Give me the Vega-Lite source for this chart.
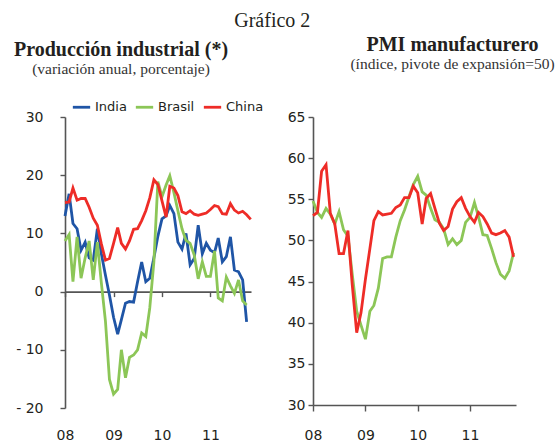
{
  "$schema": "https://vega.github.io/schema/vega-lite/v6.json",
  "padding": {"left": 13, "top": 10, "right": 0, "bottom": 0},
  "title": {"text": "Gráfico 2", "fontWeight": "normal", "fontSize": 20, "anchor": "middle", "offset": 4, "dx": -12},
  "spacing": 30,
  "config": {
    "view": {"stroke": null},
    "font": "DejaVu Sans",
    "axis": {"labelFont": "DejaVu Sans", "labelFontSize": 14, "labelColor": "#231f20", "domainColor": "#555555", "domainWidth": 1.6, "tickColor": "#555555", "tickWidth": 1.4, "grid": false},
    "legend": {"labelFont": "DejaVu Sans", "labelFontSize": 13, "labelColor": "#231f20", "symbolType": "stroke", "symbolStrokeWidth": 4, "symbolSize": 300, "labelOffset": 3, "columnPadding": 3, "padding": 0},
    "title": {"font": "Liberation Serif", "fontSize": 20, "fontWeight": "bold", "color": "#231f20", "subtitleFont": "Liberation Serif", "subtitleFontSize": 15.5, "subtitleColor": "#333333", "subtitlePadding": 2.5},
    "line": {"strokeWidth": 2.8}
  },
  "hconcat": [
    {
      "width": 186,
      "height": 291,
      "title": {"text": "Producción industrial (*)", "subtitle": "(variación anual, porcentaje)", "frame": "group", "anchor": "middle", "dx": -37, "offset": 32.5},
      "data": {
        "format": {"parse": {"m": "date:'%Y-%m'"}},
        "values": [
          {"m": "2008-01", "s": "India", "v": 13.0}, {"m": "2008-02", "s": "India", "v": 16.8}, {"m": "2008-03", "s": "India", "v": 11.7}, {"m": "2008-04", "s": "India", "v": 10.8}, {"m": "2008-05", "s": "India", "v": 7.1}, {"m": "2008-06", "s": "India", "v": 8.5}, {"m": "2008-07", "s": "India", "v": 5.8}, {"m": "2008-08", "s": "India", "v": 5.4}, {"m": "2008-09", "s": "India", "v": 10.8}, {"m": "2008-10", "s": "India", "v": 6.5}, {"m": "2008-11", "s": "India", "v": 2.8}, {"m": "2008-12", "s": "India", "v": -0.6},
          {"m": "2009-01", "s": "India", "v": -4.4}, {"m": "2009-02", "s": "India", "v": -7.3}, {"m": "2009-03", "s": "India", "v": -4.8}, {"m": "2009-04", "s": "India", "v": -2.0}, {"m": "2009-05", "s": "India", "v": -1.7}, {"m": "2009-06", "s": "India", "v": -1.8}, {"m": "2009-07", "s": "India", "v": 1.7}, {"m": "2009-08", "s": "India", "v": 5.1}, {"m": "2009-09", "s": "India", "v": 1.7}, {"m": "2009-10", "s": "India", "v": 2.3}, {"m": "2009-11", "s": "India", "v": 5.8}, {"m": "2009-12", "s": "India", "v": 9.5},
          {"m": "2010-01", "s": "India", "v": 12.5}, {"m": "2010-02", "s": "India", "v": 13.0}, {"m": "2010-03", "s": "India", "v": 14.8}, {"m": "2010-04", "s": "India", "v": 13.4}, {"m": "2010-05", "s": "India", "v": 8.5}, {"m": "2010-06", "s": "India", "v": 7.3}, {"m": "2010-07", "s": "India", "v": 10.0}, {"m": "2010-08", "s": "India", "v": 4.6}, {"m": "2010-09", "s": "India", "v": 5.7}, {"m": "2010-10", "s": "India", "v": 11.4}, {"m": "2010-11", "s": "India", "v": 6.5}, {"m": "2010-12", "s": "India", "v": 8.3},
          {"m": "2011-01", "s": "India", "v": 7.1}, {"m": "2011-02", "s": "India", "v": 6.7}, {"m": "2011-03", "s": "India", "v": 9.2}, {"m": "2011-04", "s": "India", "v": 5.1}, {"m": "2011-05", "s": "India", "v": 6.0}, {"m": "2011-06", "s": "India", "v": 9.4}, {"m": "2011-07", "s": "India", "v": 3.7}, {"m": "2011-08", "s": "India", "v": 3.4}, {"m": "2011-09", "s": "India", "v": 2.0}, {"m": "2011-10", "s": "India", "v": -5.2},
          {"m": "2008-01", "s": "Brasil", "v": 8.7}, {"m": "2008-02", "s": "Brasil", "v": 9.8}, {"m": "2008-03", "s": "Brasil", "v": 1.7}, {"m": "2008-04", "s": "Brasil", "v": 9.4}, {"m": "2008-05", "s": "Brasil", "v": 2.3}, {"m": "2008-06", "s": "Brasil", "v": 5.8}, {"m": "2008-07", "s": "Brasil", "v": 8.7}, {"m": "2008-08", "s": "Brasil", "v": 2.0}, {"m": "2008-09", "s": "Brasil", "v": 8.5}, {"m": "2008-10", "s": "Brasil", "v": 1.5}, {"m": "2008-11", "s": "Brasil", "v": -5.1}, {"m": "2008-12", "s": "Brasil", "v": -15.1},
          {"m": "2009-01", "s": "Brasil", "v": -17.6}, {"m": "2009-02", "s": "Brasil", "v": -16.8}, {"m": "2009-03", "s": "Brasil", "v": -10.0}, {"m": "2009-04", "s": "Brasil", "v": -14.8}, {"m": "2009-05", "s": "Brasil", "v": -11.3}, {"m": "2009-06", "s": "Brasil", "v": -10.9}, {"m": "2009-07", "s": "Brasil", "v": -10.0}, {"m": "2009-08", "s": "Brasil", "v": -7.1}, {"m": "2009-09", "s": "Brasil", "v": -7.7}, {"m": "2009-10", "s": "Brasil", "v": -2.8}, {"m": "2009-11", "s": "Brasil", "v": 5.1}, {"m": "2009-12", "s": "Brasil", "v": 18.9},
          {"m": "2010-01", "s": "Brasil", "v": 16.3}, {"m": "2010-02", "s": "Brasil", "v": 18.3}, {"m": "2010-03", "s": "Brasil", "v": 19.9}, {"m": "2010-04", "s": "Brasil", "v": 17.0}, {"m": "2010-05", "s": "Brasil", "v": 13.9}, {"m": "2010-06", "s": "Brasil", "v": 10.8}, {"m": "2010-07", "s": "Brasil", "v": 8.8}, {"m": "2010-08", "s": "Brasil", "v": 8.3}, {"m": "2010-09", "s": "Brasil", "v": 6.3}, {"m": "2010-10", "s": "Brasil", "v": 2.2}, {"m": "2010-11", "s": "Brasil", "v": 5.1}, {"m": "2010-12", "s": "Brasil", "v": 2.6},
          {"m": "2011-01", "s": "Brasil", "v": 2.6}, {"m": "2011-02", "s": "Brasil", "v": 7.0}, {"m": "2011-03", "s": "Brasil", "v": -1.1}, {"m": "2011-04", "s": "Brasil", "v": -1.6}, {"m": "2011-05", "s": "Brasil", "v": 2.5}, {"m": "2011-06", "s": "Brasil", "v": 1.0}, {"m": "2011-07", "s": "Brasil", "v": -0.3}, {"m": "2011-08", "s": "Brasil", "v": 2.0}, {"m": "2011-09", "s": "Brasil", "v": -1.6}, {"m": "2011-10", "s": "Brasil", "v": -2.3},
          {"m": "2008-01", "s": "China", "v": 15.3}, {"m": "2008-02", "s": "China", "v": 15.4}, {"m": "2008-03", "s": "China", "v": 17.8}, {"m": "2008-04", "s": "China", "v": 15.7}, {"m": "2008-05", "s": "China", "v": 16.0}, {"m": "2008-06", "s": "China", "v": 16.0}, {"m": "2008-07", "s": "China", "v": 14.5}, {"m": "2008-08", "s": "China", "v": 12.6}, {"m": "2008-09", "s": "China", "v": 11.4}, {"m": "2008-10", "s": "China", "v": 8.2}, {"m": "2008-11", "s": "China", "v": 5.4}, {"m": "2008-12", "s": "China", "v": 5.7},
          {"m": "2009-01", "s": "China", "v": 8.3}, {"m": "2009-02", "s": "China", "v": 11.0}, {"m": "2009-03", "s": "China", "v": 8.3}, {"m": "2009-04", "s": "China", "v": 7.3}, {"m": "2009-05", "s": "China", "v": 8.7}, {"m": "2009-06", "s": "China", "v": 10.7}, {"m": "2009-07", "s": "China", "v": 10.8}, {"m": "2009-08", "s": "China", "v": 12.2}, {"m": "2009-09", "s": "China", "v": 13.9}, {"m": "2009-10", "s": "China", "v": 16.1}, {"m": "2009-11", "s": "China", "v": 19.2}, {"m": "2009-12", "s": "China", "v": 18.4},
          {"m": "2010-01", "s": "China", "v": 15.6}, {"m": "2010-02", "s": "China", "v": 12.8}, {"m": "2010-03", "s": "China", "v": 18.1}, {"m": "2010-04", "s": "China", "v": 17.8}, {"m": "2010-05", "s": "China", "v": 16.5}, {"m": "2010-06", "s": "China", "v": 13.7}, {"m": "2010-07", "s": "China", "v": 13.4}, {"m": "2010-08", "s": "China", "v": 13.9}, {"m": "2010-09", "s": "China", "v": 13.3}, {"m": "2010-10", "s": "China", "v": 13.1}, {"m": "2010-11", "s": "China", "v": 13.3}, {"m": "2010-12", "s": "China", "v": 13.5},
          {"m": "2011-01", "s": "China", "v": 14.1}, {"m": "2011-02", "s": "China", "v": 14.8}, {"m": "2011-03", "s": "China", "v": 14.6}, {"m": "2011-04", "s": "China", "v": 13.4}, {"m": "2011-05", "s": "China", "v": 13.3}, {"m": "2011-06", "s": "China", "v": 15.1}, {"m": "2011-07", "s": "China", "v": 14.0}, {"m": "2011-08", "s": "China", "v": 13.5}, {"m": "2011-09", "s": "China", "v": 13.8}, {"m": "2011-10", "s": "China", "v": 13.2}, {"m": "2011-11", "s": "China", "v": 12.4}
        ]
      },
      "mark": {"type": "line", "strokeWidth": 2.8},
      "encoding": {
        "x": {
          "field": "m", "type": "temporal",
          "scale": {"domain": [{"year": 2008, "month": 1, "date": 1}, {"year": 2011, "month": 11, "date": 3}]},
          "axis": {"title": null, "orient": "bottom", "offset": -116.4, "format": "%y", "tickSize": 5, "labelPadding": 131.5, "labelFlush": false,
                   "values": [{"year": 2008, "month": 1, "date": 1}, {"year": 2009, "month": 1, "date": 1}, {"year": 2010, "month": 1, "date": 1}, {"year": 2011, "month": 1, "date": 1}]}
        },
        "y": {
          "field": "v", "type": "quantitative",
          "scale": {"domain": [-20, 30], "nice": false},
          "axis": {"title": null, "values": [-20, -10, 0, 10, 20, 30], "tickSize": 5, "labelPadding": 17, "labelExpr": "datum.value < 0 ? '- ' + (-datum.value) : datum.label"}
        },
        "color": {
          "field": "s", "type": "nominal",
          "scale": {"domain": ["India", "Brasil", "China"], "range": ["#1f55a6", "#8cc657", "#ee2c27"]},
          "legend": {"title": null, "orient": "none", "direction": "horizontal", "legendX": 6, "legendY": -20.5}
        }
      }
    },
    {
      "width": 203,
      "height": 288,
      "title": {"text": "PMI manufacturero", "subtitle": "(índice, pivote de expansión=50)", "frame": "group", "anchor": "middle", "dx": 38, "offset": 37.5},
      "data": {
        "format": {"parse": {"m": "date:'%Y-%m'"}},
        "values": [
          {"m": "2008-01", "s": "Brasil", "v": 54.8}, {"m": "2008-02", "s": "Brasil", "v": 53.4}, {"m": "2008-03", "s": "Brasil", "v": 52.8}, {"m": "2008-04", "s": "Brasil", "v": 53.9}, {"m": "2008-05", "s": "Brasil", "v": 53.2}, {"m": "2008-06", "s": "Brasil", "v": 52.0}, {"m": "2008-07", "s": "Brasil", "v": 53.5}, {"m": "2008-08", "s": "Brasil", "v": 51.3}, {"m": "2008-09", "s": "Brasil", "v": 50.5}, {"m": "2008-10", "s": "Brasil", "v": 45.9}, {"m": "2008-11", "s": "Brasil", "v": 41.4}, {"m": "2008-12", "s": "Brasil", "v": 39.7},
          {"m": "2009-01", "s": "Brasil", "v": 38.0}, {"m": "2009-02", "s": "Brasil", "v": 41.4}, {"m": "2009-03", "s": "Brasil", "v": 42.1}, {"m": "2009-04", "s": "Brasil", "v": 44.2}, {"m": "2009-05", "s": "Brasil", "v": 47.8}, {"m": "2009-06", "s": "Brasil", "v": 48.0}, {"m": "2009-07", "s": "Brasil", "v": 48.0}, {"m": "2009-08", "s": "Brasil", "v": 50.4}, {"m": "2009-09", "s": "Brasil", "v": 52.4}, {"m": "2009-10", "s": "Brasil", "v": 53.7}, {"m": "2009-11", "s": "Brasil", "v": 55.3}, {"m": "2009-12", "s": "Brasil", "v": 56.8},
          {"m": "2010-01", "s": "Brasil", "v": 57.8}, {"m": "2010-02", "s": "Brasil", "v": 55.9}, {"m": "2010-03", "s": "Brasil", "v": 55.5}, {"m": "2010-04", "s": "Brasil", "v": 53.9}, {"m": "2010-05", "s": "Brasil", "v": 52.5}, {"m": "2010-06", "s": "Brasil", "v": 52.2}, {"m": "2010-07", "s": "Brasil", "v": 51.4}, {"m": "2010-08", "s": "Brasil", "v": 49.5}, {"m": "2010-09", "s": "Brasil", "v": 50.2}, {"m": "2010-10", "s": "Brasil", "v": 49.5}, {"m": "2010-11", "s": "Brasil", "v": 50.0}, {"m": "2010-12", "s": "Brasil", "v": 52.2},
          {"m": "2011-01", "s": "Brasil", "v": 52.8}, {"m": "2011-02", "s": "Brasil", "v": 54.6}, {"m": "2011-03", "s": "Brasil", "v": 52.9}, {"m": "2011-04", "s": "Brasil", "v": 50.7}, {"m": "2011-05", "s": "Brasil", "v": 50.6}, {"m": "2011-06", "s": "Brasil", "v": 49.0}, {"m": "2011-07", "s": "Brasil", "v": 47.3}, {"m": "2011-08", "s": "Brasil", "v": 45.9}, {"m": "2011-09", "s": "Brasil", "v": 45.4}, {"m": "2011-10", "s": "Brasil", "v": 46.3}, {"m": "2011-11", "s": "Brasil", "v": 48.5},
          {"m": "2008-01", "s": "China", "v": 53.0}, {"m": "2008-02", "s": "China", "v": 53.4}, {"m": "2008-03", "s": "China", "v": 58.4}, {"m": "2008-04", "s": "China", "v": 59.2}, {"m": "2008-05", "s": "China", "v": 53.3}, {"m": "2008-06", "s": "China", "v": 52.0}, {"m": "2008-07", "s": "China", "v": 48.4}, {"m": "2008-08", "s": "China", "v": 48.4}, {"m": "2008-09", "s": "China", "v": 51.2}, {"m": "2008-10", "s": "China", "v": 44.6}, {"m": "2008-11", "s": "China", "v": 38.8}, {"m": "2008-12", "s": "China", "v": 41.2},
          {"m": "2009-01", "s": "China", "v": 45.3}, {"m": "2009-02", "s": "China", "v": 49.0}, {"m": "2009-03", "s": "China", "v": 52.4}, {"m": "2009-04", "s": "China", "v": 53.5}, {"m": "2009-05", "s": "China", "v": 53.1}, {"m": "2009-06", "s": "China", "v": 53.2}, {"m": "2009-07", "s": "China", "v": 53.3}, {"m": "2009-08", "s": "China", "v": 54.0}, {"m": "2009-09", "s": "China", "v": 54.3}, {"m": "2009-10", "s": "China", "v": 55.2}, {"m": "2009-11", "s": "China", "v": 55.2}, {"m": "2009-12", "s": "China", "v": 56.6},
          {"m": "2010-01", "s": "China", "v": 55.8}, {"m": "2010-02", "s": "China", "v": 52.0}, {"m": "2010-03", "s": "China", "v": 55.1}, {"m": "2010-04", "s": "China", "v": 55.7}, {"m": "2010-05", "s": "China", "v": 53.9}, {"m": "2010-06", "s": "China", "v": 52.1}, {"m": "2010-07", "s": "China", "v": 51.2}, {"m": "2010-08", "s": "China", "v": 51.7}, {"m": "2010-09", "s": "China", "v": 53.8}, {"m": "2010-10", "s": "China", "v": 54.7}, {"m": "2010-11", "s": "China", "v": 55.2}, {"m": "2010-12", "s": "China", "v": 53.9},
          {"m": "2011-01", "s": "China", "v": 52.9}, {"m": "2011-02", "s": "China", "v": 52.2}, {"m": "2011-03", "s": "China", "v": 53.4}, {"m": "2011-04", "s": "China", "v": 52.9}, {"m": "2011-05", "s": "China", "v": 52.0}, {"m": "2011-06", "s": "China", "v": 50.9}, {"m": "2011-07", "s": "China", "v": 50.7}, {"m": "2011-08", "s": "China", "v": 50.9}, {"m": "2011-09", "s": "China", "v": 51.2}, {"m": "2011-10", "s": "China", "v": 50.4}, {"m": "2011-11", "s": "China", "v": 48.0}
        ]
      },
      "mark": {"type": "line", "strokeWidth": 2.8},
      "encoding": {
        "x": {
          "field": "m", "type": "temporal",
          "scale": {"domain": [{"year": 2008, "month": 1, "date": 1}, {"year": 2011, "month": 11, "date": 18}]},
          "axis": {"title": null, "format": "%y", "tickSize": 6, "labelPadding": 17, "labelFlush": false,
                   "values": [{"year": 2008, "month": 1, "date": 1}, {"year": 2009, "month": 1, "date": 1}, {"year": 2010, "month": 1, "date": 1}, {"year": 2011, "month": 1, "date": 1}]}
        },
        "y": {
          "field": "v", "type": "quantitative",
          "scale": {"domain": [30, 65], "nice": false, "zero": false},
          "axis": {"title": null, "values": [30, 35, 40, 45, 50, 55, 60, 65], "tickSize": 5, "labelPadding": 3}
        },
        "color": {
          "field": "s", "type": "nominal",
          "scale": {"domain": ["Brasil", "China"], "range": ["#8cc657", "#ee2c27"]},
          "legend": {"title": null, "orient": "none", "direction": "horizontal", "legendX": 40, "legendY": -15.5}
        }
      }
    }
  ]
}
